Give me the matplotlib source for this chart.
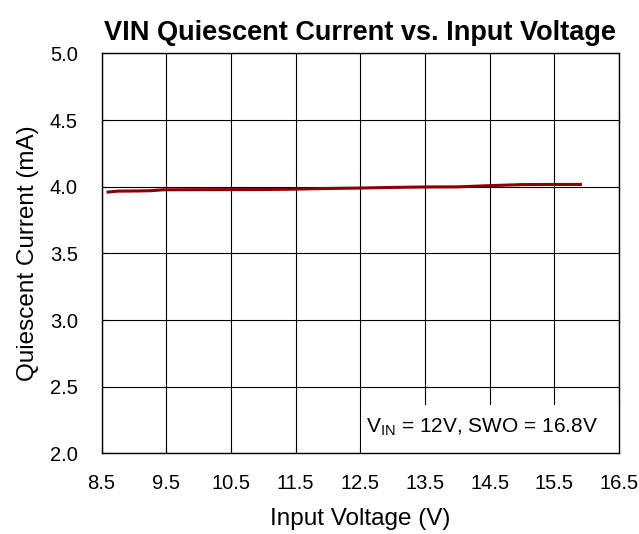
import numpy as np
import matplotlib
matplotlib.use("Agg")
import matplotlib.pyplot as plt
from matplotlib.patches import Rectangle

plt.rcParams['font.family'] = ['Liberation Sans', 'DejaVu Sans']
plt.rcParams['mathtext.fontset'] = 'custom'
plt.rcParams['mathtext.rm'] = 'Liberation Sans'

# data
vin = [8.6, 8.75, 9.0, 9.25, 9.45, 10.0, 11.0, 11.5, 12.0, 12.5, 13.0, 13.5, 14.0, 14.5, 15.0, 15.5, 15.9]
iq = [3.96, 3.967, 3.968, 3.97, 3.977, 3.978, 3.979, 3.982, 3.987, 3.99, 3.995, 3.998, 3.999, 4.008, 4.016, 4.017, 4.017]

xticks = [8.5, 9.5, 10.5, 11.5, 12.5, 13.5, 14.5, 15.5, 16.5]
yticks = [2.0, 2.5, 3.0, 3.5, 4.0, 4.5, 5.0]

fig = plt.figure(figsize=(6.39, 5.34), dpi=100)
ax = fig.add_axes([0.159, 0.151, 0.81, 0.749])

ax.plot(vin, iq, color='#8B0000', lw=2.2, zorder=3)

ax.set_xlim(8.5, 16.5)
ax.set_ylim(2.0, 5.0)
ax.set_xticks(xticks)
ax.set_yticks(yticks)
ax.set_xticklabels([f"{t:.1f}" for t in xticks])
ax.set_yticklabels([f"{t:.1f}" for t in yticks])
ax.grid(True, color='black', lw=0.8, zorder=1)
ax.set_axisbelow(True)
ax.tick_params(direction='in', length=4, labelsize=14.5, colors='black')
ax.tick_params(axis='x', pad=15)
ax.tick_params(axis='y', pad=17)
for s in ax.spines.values():
    s.set_color('black')
    s.set_linewidth(1)

# white box behind annotation
ax.add_patch(Rectangle((0.502, 0.0), 0.498, 0.121, transform=ax.transAxes,
                       facecolor='white', edgecolor='none', zorder=2))
ax.text(0.511, 0.053, r"V$_{\mathregular{IN}}$ = 12V, SWO = 16.8V", transform=ax.transAxes,
        fontsize=15, ha='left', va='baseline', zorder=4)

ax.set_title("VIN Quiescent Current vs. Input Voltage", fontsize=19.5, fontweight='bold', pad=10)
ax.set_xlabel("Input Voltage (V)", fontsize=17.5, labelpad=11)
ax.set_ylabel("Quiescent Current (mA)", fontsize=17.5, labelpad=8)

fig.savefig("out.png", dpi=100)
